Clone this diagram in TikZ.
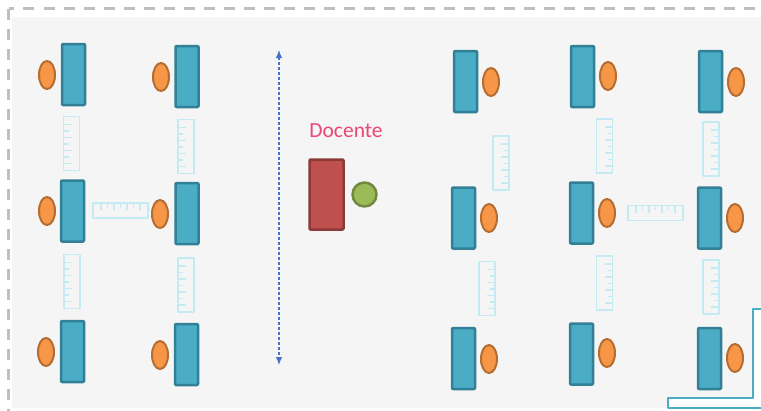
\documentclass[tikz,border=0pt]{standalone}
\usepackage{fontspec}
\setmainfont{Carlito}
\usepackage{tikz}
\usetikzlibrary{arrows}
\usetikzlibrary{arrows.meta}
\usetikzlibrary{shapes.geometric}

\definecolor{deskfill}{RGB}{75,172,198}
\definecolor{deskline}{RGB}{49,128,150}
\definecolor{pupilfill}{RGB}{247,150,70}
\definecolor{pupilline}{RGB}{182,109,49}
\definecolor{rulercol}{RGB}{196,234,243}
\definecolor{docfill}{RGB}{192,80,77}
\definecolor{docline}{RGB}{140,58,56}
\definecolor{headfill}{RGB}{155,187,89}
\definecolor{headline}{RGB}{113,137,62}
\definecolor{docpink}{RGB}{236,70,120}
\definecolor{arrowblue}{RGB}{68,114,196}
\definecolor{framegray}{RGB}{191,191,191}
\definecolor{roomgray}{RGB}{245,245,245}

% vertical ruler: centre x, centre y, side of the ticks (1 left, -1 right)
\newcommand{\rulerv}[3]{%
  \draw[ruler] (#1-8,#2-27) rectangle (#1+8,#2+27);
  \foreach \k in {0,...,6} {
    \pgfmathsetmacro{\len}{mod(\k,2)==0 ? 8 : 5}
    \draw[ruler] (#1-8*#3,#2-19+6.5*\k) -- ++(\len*#3,0);
  }
}
% horizontal ruler: centre x, centre y
\newcommand{\rulerh}[2]{%
  \draw[ruler] (#1-27.5,#2-7.5) rectangle (#1+27.5,#2+7.5);
  \foreach \k in {0,...,6} {
    \pgfmathsetmacro{\len}{mod(\k,2)==0 ? 7 : 4.5}
    \draw[ruler] (#1-19.5+6.5*\k,#2-7.5) -- ++(0,\len);
  }
}

\begin{document}
\begin{tikzpicture}[x=1pt,y=-1pt,>={Latex[length=8pt,width=6.5pt]},line join=round,
    desk/.style={rectangle,draw=deskline,fill=deskfill,line width=2.5pt,rounded corners=1pt,minimum width=23pt,minimum height=61pt,inner sep=0pt},
    pupil/.style={ellipse,draw=pupilline,fill=pupilfill,line width=2pt,minimum width=16pt,minimum height=28pt,inner sep=0pt},
    ruler/.style={draw=rulercol,line width=1.3pt}]
        \useasboundingbox (0,0) rectangle (761,410);
        \clip (0,0) rectangle (761,410);
        %
        \fill[roomgray] (12,17) rectangle (770,408);
        \draw[framegray,line width=3pt,dash pattern=on 11pt off 9pt] (8.5,8.5) rectangle (790,440);
        %
        % left side of the room
        \node[desk] (desk1) at (73.5,74.5) {};
        \node[desk] (desk2) at (72.5,211) {};
        \node[desk] (desk3) at (72.5,351.5) {};
        \node[desk] (desk4) at (187,76.5) {};
        \node[desk] (desk5) at (187,213.5) {};
        \node[desk] (desk6) at (186.5,354.5) {};
        \node[pupil] (pupil1) at (47,75) {};
        \node[pupil] (pupil2) at (47,211) {};
        \node[pupil] (pupil3) at (46,352) {};
        \node[pupil] (pupil4) at (161,77) {};
        \node[pupil] (pupil5) at (160,214) {};
        \node[pupil] (pupil6) at (160,355) {};
        \rulerv{71.5}{143.5}{1}
        \rulerv{72}{281.5}{1}
        \rulerv{186}{146.5}{1}
        \rulerv{186}{285}{1}
        \rulerh{120.5}{210.5}
        %
        % right side of the room
        \node[desk] (desk7) at (465.5,81.5) {};
        \node[desk] (desk8) at (463.5,218) {};
        \node[desk] (desk9) at (463.5,358.5) {};
        \node[desk] (desk10) at (582.5,76.5) {};
        \node[desk] (desk11) at (581.5,213) {};
        \node[desk] (desk12) at (581.5,354) {};
        \node[desk] (desk13) at (710.5,81.5) {};
        \node[desk] (desk14) at (709.5,218) {};
        \node[desk] (desk15) at (709.5,358.5) {};
        \node[pupil] (pupil7) at (491,82) {};
        \node[pupil] (pupil8) at (489,218) {};
        \node[pupil] (pupil9) at (489,359) {};
        \node[pupil] (pupil10) at (608,76) {};
        \node[pupil] (pupil11) at (607,213) {};
        \node[pupil] (pupil12) at (607,353) {};
        \node[pupil] (pupil13) at (736,82) {};
        \node[pupil] (pupil14) at (735,218) {};
        \node[pupil] (pupil15) at (735,358) {};
        \rulerv{501}{163}{-1}
        \rulerv{487}{288.5}{-1}
        \rulerv{604.5}{146}{-1}
        \rulerv{604.5}{283}{-1}
        \rulerv{711}{149}{-1}
        \rulerv{711}{287}{-1}
        \rulerh{655.5}{213}
        %
        % teacher
        \node[rectangle,draw=docline,fill=docfill,line width=2.5pt,rounded corners=1pt,minimum width=34pt,minimum height=70pt,inner sep=0pt] (docdesk) at (326.5,194.5) {};
        \node[circle,draw=headline,fill=headfill,line width=2.5pt,minimum size=24pt,inner sep=0pt] (docente) at (364.5,194.5) {};
        \node[text=docpink,font=\fontsize{21.5}{24}\selectfont,inner sep=0pt] (doclabel) at (346,131) {Docente};
        %
        \coordinate (front) at (279,50);
        \coordinate (back) at (279,365);
        \draw[arrowblue,line width=1.1pt,dash pattern=on 3pt off 2pt,<->] (front) to (back);
        %
        \draw[deskfill,fill=white,line width=2.5pt] (775,309) -- (753,309) -- (753,398) -- (668,398) -- (668,408) -- (775,408);
        %
\end{tikzpicture}
\end{document}
